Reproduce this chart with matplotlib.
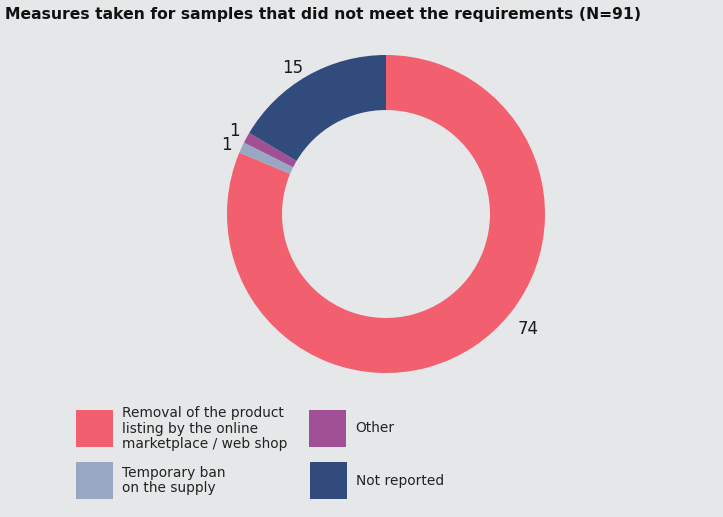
import matplotlib

matplotlib.use('Agg')

import numpy as np
from matplotlib import pyplot as plt
from matplotlib.patches import Rectangle

# data
categories = ['Removal of the product\nlisting by the online\nmarketplace / web shop',
              'Temporary ban\non the supply',
              'Other',
              'Not reported']
values = [74, 1, 1, 15]
colors = ['#f25f6e', '#98a8c2', '#a05195', '#314b7c']
bg = '#e6e7e8'

W, H = 723, 517
cx, cy, R = 386, 214, 159


def main():
  fig = plt.figure(figsize=(W / 100, H / 100), dpi=100, facecolor=bg)
  ax = fig.add_axes([(cx - R) / W, (H - cy - R) / H, 2 * R / W, 2 * R / H])
  ax.set_facecolor(bg)
  wedges, _ = ax.pie(values, colors=colors, startangle=90, counterclock=False,
                     radius=1, wedgeprops=dict(width=0.346, linewidth=0))
  ax.set_xlim(-1, 1)
  ax.set_ylim(-1, 1)
  ax.set_aspect('equal')
  ax.axis('off')

  # value labels
  label_angles = [-38.8, 156.7, 151.2, 122.4]
  for i, w in enumerate(wedges):
    ang = np.deg2rad(label_angles[i])
    r = 1.15 if i == 0 else 1.09
    ax.text(r * np.cos(ang), r * np.sin(ang), str(values[i]), ha='center', va='center',
            fontsize=12, color='#1a1a1a', clip_on=False)

  fig.text(5 / W, 1 - 14 / H, 'Measures taken for samples that did not meet the requirements (N=91)',
           fontsize=11.25, fontweight='bold', color='#111111', va='center', ha='left')

  # legend
  boxes = [(76, 410), (76, 462), (309, 410), (310, 462)]
  for (x, y), c, lab in zip(boxes, colors, categories):
    fig.patches.append(Rectangle((x / W, 1 - (y + 37) / H), 37 / W, 37 / H,
                                 transform=fig.transFigure, facecolor=c, edgecolor='none'))
    fig.text((x + 46) / W, 1 - (y + 18.5) / H, lab, fontsize=9.9, color='#222222',
             va='center', ha='left', linespacing=1.17)

  plt.savefig('out.png', dpi=100, facecolor=bg)


if __name__ == '__main__':
  main()
